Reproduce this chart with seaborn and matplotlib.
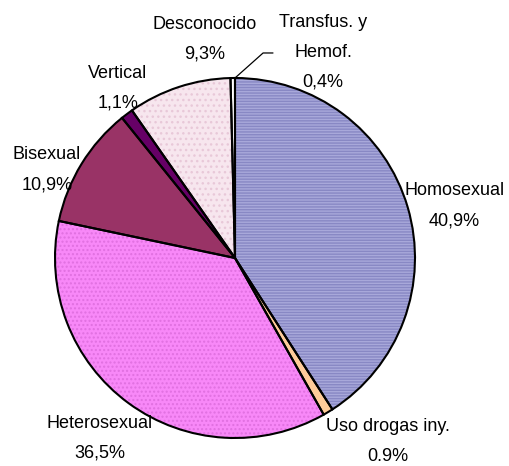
import matplotlib
matplotlib.use("Agg")
import matplotlib.pyplot as plt
import seaborn as sns

categories = ["Homosexual", "Uso drogas iny.", "Heterosexual", "Bisexual",
              "Vertical", "Desconocido", "Transfus. y\nHemof."]
values = [40.9, 0.9, 36.5, 10.9, 1.1, 9.3, 0.4]
value_labels = ["40,9%", "0.9%", "36,5%", "10,9%", "1,1%", "9,3%", "0,4%"]
colors = ["#A8A8DA", "#FFCC99", "#F888F8", "#993366", "#660066", "#F7E6EE", "#FFFFFF"]
hatch_colors = ["#8888C4", "#FFCC99", "#E070E0", "#993366", "#660066", "#E8C8D8", "#FFFFFF"]
hatches = ["------", None, "....", None, None, "...", None]

sns.set_theme(style="white")
plt.rcParams["font.family"] = ["Liberation Sans", "DejaVu Sans"]

fig = plt.figure(figsize=(5.09, 4.66), dpi=100)
ax = fig.add_axes([0, 0, 1, 1])

# fill + texture first, then black outlines on top
wedges, _ = ax.pie(values, colors=colors, startangle=90, counterclock=False,
                   wedgeprops=dict(linewidth=0))
for w, h, hc in zip(wedges, hatches, hatch_colors):
    if h:
        w.set_hatch(h)
        w.set_edgecolor(hc)
outline, _ = ax.pie(values, startangle=90, counterclock=False,
                    wedgeprops=dict(fill=False, edgecolor="black", linewidth=1.5))

# pixel layout: centre (235, 258), radius 180 px in a 509x466 figure
ax.set_xlim(-235 / 180, 274 / 180)
ax.set_ylim(-208 / 180, 258 / 180)
ax.set_aspect("auto")
ax.axis("off")

label_pos = [(1.22, 0.29), (0.85, -1.02), (-0.75, -1.0), (-1.044, 0.489),
             (-0.65, 0.944), (-0.17, 1.214), (0.49, 1.144)]
for cat, lab, (x, y) in zip(categories, value_labels, label_pos):
    ax.text(x, y, f"{cat}\n{lab}", ha="center", va="center", fontsize=13,
            linespacing=2.0, color="black")

# leader line for the tiny transfusion slice
ax.plot([0.0, 0.156, 0.211], [1.0, 1.139, 1.139], color="black", linewidth=0.9)

fig.savefig("out.png", dpi=100)
